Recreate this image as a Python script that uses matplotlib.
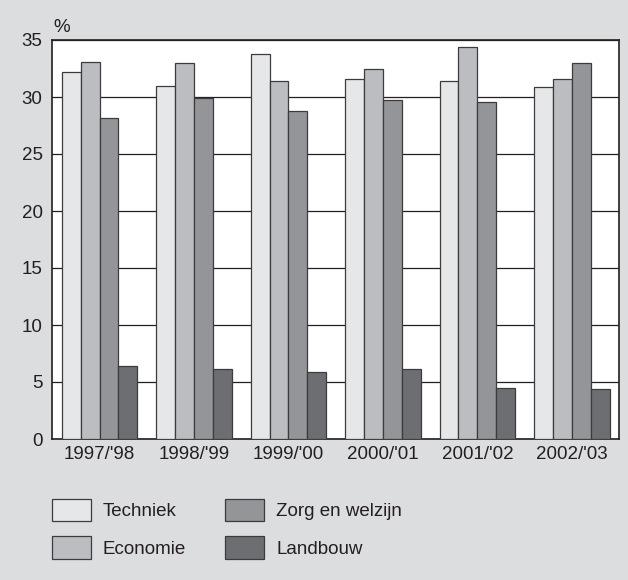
import matplotlib
matplotlib.use("Agg")
import matplotlib.pyplot as plt
import numpy as np

plt.rcParams['font.family'] = ['Liberation Sans', 'DejaVu Sans']

years = ["1997/'98", "1998/'99", "1999/'00", "2000/'01", "2001/'02", "2002/'03"]
techniek = [32.2, 31.0, 33.8, 31.6, 31.4, 30.9]
economie = [33.1, 33.0, 31.4, 32.5, 34.4, 31.6]
zorg = [28.2, 29.9, 28.8, 29.7, 29.6, 33.0]
landbouw = [6.4, 6.1, 5.9, 6.1, 4.5, 4.4]
series_names = ["Techniek", "Economie", "Zorg en welzijn", "Landbouw"]
colors = ["#e6e7e9", "#bcbdc0", "#939598", "#6d6e71"]
yticks = [0, 5, 10, 15, 20, 25, 30, 35]

bg = "#dcdddf"
txt = "#231f20"
fs = 13.5

fig = plt.figure(figsize=(6.28, 5.8), dpi=100, facecolor=bg)
ax = fig.add_axes([52.3/628, 141/580, (619-52.3)/628, (439-40)/580])
ax.set_facecolor("white")

x = np.arange(len(years))
w = 0.2
handles = []
for i, (vals, name, c) in enumerate(zip([techniek, economie, zorg, landbouw], series_names, colors)):
    b = ax.bar(x + (i - 1.5) * w, vals, width=w, color=c, edgecolor="#3c3c3e",
               linewidth=0.9, label=name, zorder=3)
    handles.append(b)

ax.set_xlim(-0.5, len(years) - 0.5)
ax.set_ylim(0, 35)
ax.set_yticks(yticks)
ax.set_yticklabels([str(t) for t in yticks])
ax.set_xticks(x)
ax.set_xticklabels(years)
ax.tick_params(axis='both', length=0, labelsize=fs, colors=txt)
ax.tick_params(axis='y', pad=7)
ax.tick_params(axis='x', pad=5)
ax.yaxis.grid(True, color="#231f20", linewidth=0.9, zorder=0)
ax.set_axisbelow(True)
for s in ax.spines.values():
    s.set_color("#231f20")
    s.set_linewidth(1.2)

fig.text(53/628, 1 - 27/580, "%", fontsize=fs, color=txt, ha='left', va='center')

leg = fig.legend(handles=handles, labels=series_names, ncol=2, loc='upper left',
                 bbox_to_anchor=(52/628, 1 - 499/580), frameon=False, fontsize=fs,
                 handlelength=2.08, handleheight=1.45, handletextpad=0.64,
                 columnspacing=2.08, labelspacing=0.8, borderpad=0, borderaxespad=0)
for t in leg.get_texts():
    t.set_color(txt)

fig.savefig("out.png", dpi=100, facecolor=bg)
